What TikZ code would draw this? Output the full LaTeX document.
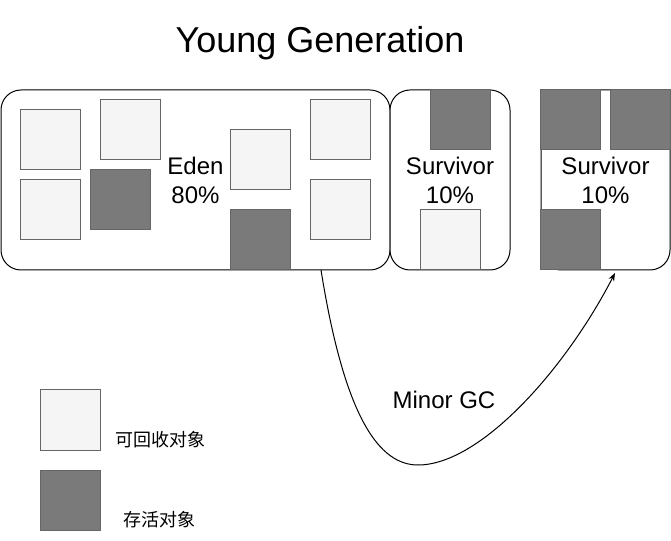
\documentclass[tikz,border=0pt]{standalone}
\usepackage{fontspec}
\setmainfont{Liberation Sans}
\newfontfamily\cjk{Noto Sans CJK SC}
\usetikzlibrary{arrows.meta}
\definecolor{freefill}{HTML}{F5F5F5}
\definecolor{livefill}{HTML}{7A7A7A}
\definecolor{objline}{HTML}{666666}
\tikzstyle{heapstyle}=[
    x=0.75pt, y=-0.75pt,
    line width=0.75pt,
    >={Stealth[length=6pt,width=4.5pt]},
    every node/.style={inner sep=0pt, outer sep=0pt},
    area/.style={
        draw=black, fill=white,
        rounded corners=15pt,
        minimum height=135pt,
        align=center,
        font=\fontsize{18}{21.75}\selectfont,
    },
    freeobj/.style={draw=objline, fill=freefill, minimum size=45pt},
    liveobj/.style={draw=objline, fill=livefill, minimum size=45pt},
    keytext/.style={font=\cjk\fontsize{13.5}{16}\selectfont},
]

\begin{document}
\begin{tikzpicture}[heapstyle]
        \useasboundingbox (0,0) rectangle (671,541);
        \node[anchor=base, font=\fontsize{27}{32}\selectfont] (title) at (320,53) {Young Generation};
        % spaces
        \node[area, minimum width=291.75pt] (eden) at (195.5,180) {Eden\\80\%};
        \node[area, minimum width=90pt] (survfrom) at (450,180) {Survivor\\10\%};
        \node[area, minimum width=96.75pt] (survto) at (605.5,180) {Survivor\\10\%};
        % objects
        \node[freeobj] (e1) at (50,140) {};
        \node[freeobj] (e2) at (130,130) {};
        \node[freeobj] (e3) at (50,210) {};
        \node[liveobj] (e4) at (120,200) {};
        \node[freeobj] (e5) at (260,160) {};
        \node[liveobj] (e6) at (260,240) {};
        \node[freeobj] (e7) at (340,130) {};
        \node[freeobj] (e8) at (340,210) {};
        \node[liveobj] (s1) at (460,120) {};
        \node[freeobj] (s2) at (450,240) {};
        \node[liveobj] (t1) at (570,120) {};
        \node[liveobj] (t2) at (640,120) {};
        \node[liveobj] (t3) at (570,240) {};
        % minor gc
        \coordinate (gcfrom) at (321,270);
        \coordinate (gcto) at (615,273);
        \draw[->] (gcfrom) .. controls (345,420) and (380,465) .. (418,465)
            .. controls (480,465) and (565,370) .. (gcto);
        \node[anchor=base, font=\fontsize{18}{21.75}\selectfont] (gclabel) at (444,408) {Minor GC};
        % legend
        \node[freeobj] (keyfree) at (70,420) {};
        \node[liveobj] (keylive) at (70,500) {};
        \node[keytext] (keyfreetext) at (160,440) {可回收对象};
        \node[keytext] (keylivetext) at (159.5,520) {存活对象};
    \end{tikzpicture}
\end{document}
